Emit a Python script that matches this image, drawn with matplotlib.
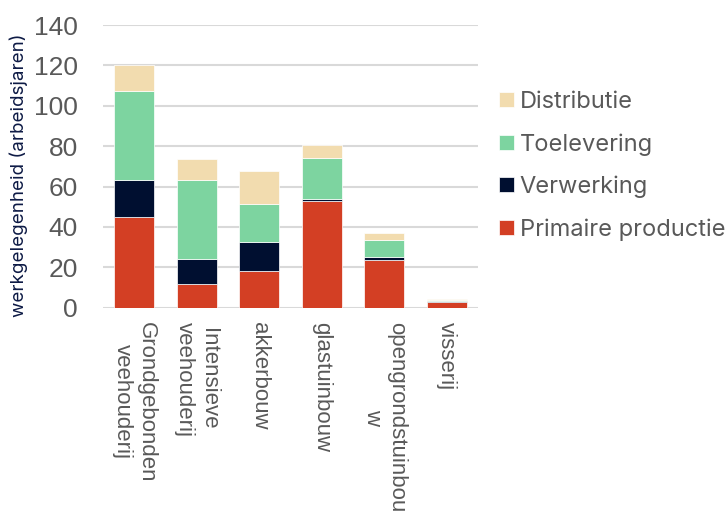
import matplotlib
matplotlib.use("Agg")
import matplotlib.pyplot as plt
import numpy as np

categories = ["Grondgebonden\nveehouderij", "Intensieve\nveehouderij", "akkerbouw",
              "glastuinbouw", "opengrondstuinbou\nw", "visserij"]
primaire = [45.0, 11.6, 18.3, 52.6, 23.8, 2.8]
verwerking = [18.0, 12.5, 14.3, 1.4, 1.2, 0.3]
toelevering = [44.5, 39.2, 18.6, 19.9, 8.7, 0.6]
distributie = [12.5, 10.3, 16.6, 6.9, 3.5, 0.4]
series_names = ["Primaire productie", "Verwerking", "Toelevering", "Distributie"]
yticks = [0, 20, 40, 60, 80, 100, 120, 140]

colors = ["#D33F24", "#000F30", "#7DD4A0", "#F2DCAF"]

plt.rcParams['font.family'] = ['Inter', 'DejaVu Sans']

fig = plt.figure(figsize=(7.25, 5.22), dpi=100)
ax = fig.add_axes([103/725, 1 - 307.7/522, (478 - 103)/725, (307.7 - 25)/522])

x = np.arange(len(categories))
bottom = np.zeros(len(categories))
handles = []
for vals, name, col in zip([primaire, verwerking, toelevering, distributie], series_names, colors):
    b = ax.bar(x, vals, width=0.64, bottom=bottom, color=col, label=name,
               edgecolor='white', linewidth=0.5, zorder=3)
    handles.append(b)
    bottom += np.array(vals)

ax.set_xlim(-0.5, len(categories) - 0.5)
ax.set_ylim(0, 140)
ax.set_yticks(yticks)
ax.yaxis.grid(True, color='#D9D9D9', linewidth=1.5, zorder=0)
ax.set_axisbelow(True)
for s in ['top', 'right', 'left', 'bottom']:
    ax.spines[s].set_visible(False)
ax.tick_params(axis='both', length=0, colors='#595959')
ax.tick_params(axis='y', pad=18)
for t in ax.get_yticklabels():
    t.set_fontfamily(['Liberation Sans Narrow', 'Liberation Sans', 'DejaVu Sans'])
    t.set_fontsize(19)
    t.set_color('#595959')
ax.set_xticks(x)
ax.set_xticklabels(categories, rotation=-90, ha='center', va='top',
                   multialignment='center', fontsize=16, color='#595959',
                   family=['Liberation Sans', 'DejaVu Sans'])
ax.tick_params(axis='x', pad=10)

fig.text(19/725, 1 - 175/522, "werkgelegenheid (arbeidsjaren)", rotation=90,
         ha='center', va='center', fontsize=13.5, color='#0D1A45')

fig.text(545/725, 1.0 + 6/522, "Werkgelegenheid in de agrosector (x1000)",
         ha='right', va='baseline', fontsize=16, color='#0D1A45', fontweight='bold')

leg = fig.legend(handles[::-1], series_names[::-1], loc='center left',
                 bbox_to_anchor=(490/725, 1 - 166/522), frameon=False,
                 fontsize=17, handlelength=0.6, handleheight=0.6,
                 handletextpad=0.25, labelspacing=0.85, borderaxespad=0)
for t in leg.get_texts():
    t.set_color('#595959')

fig.savefig("out.png", dpi=100)
